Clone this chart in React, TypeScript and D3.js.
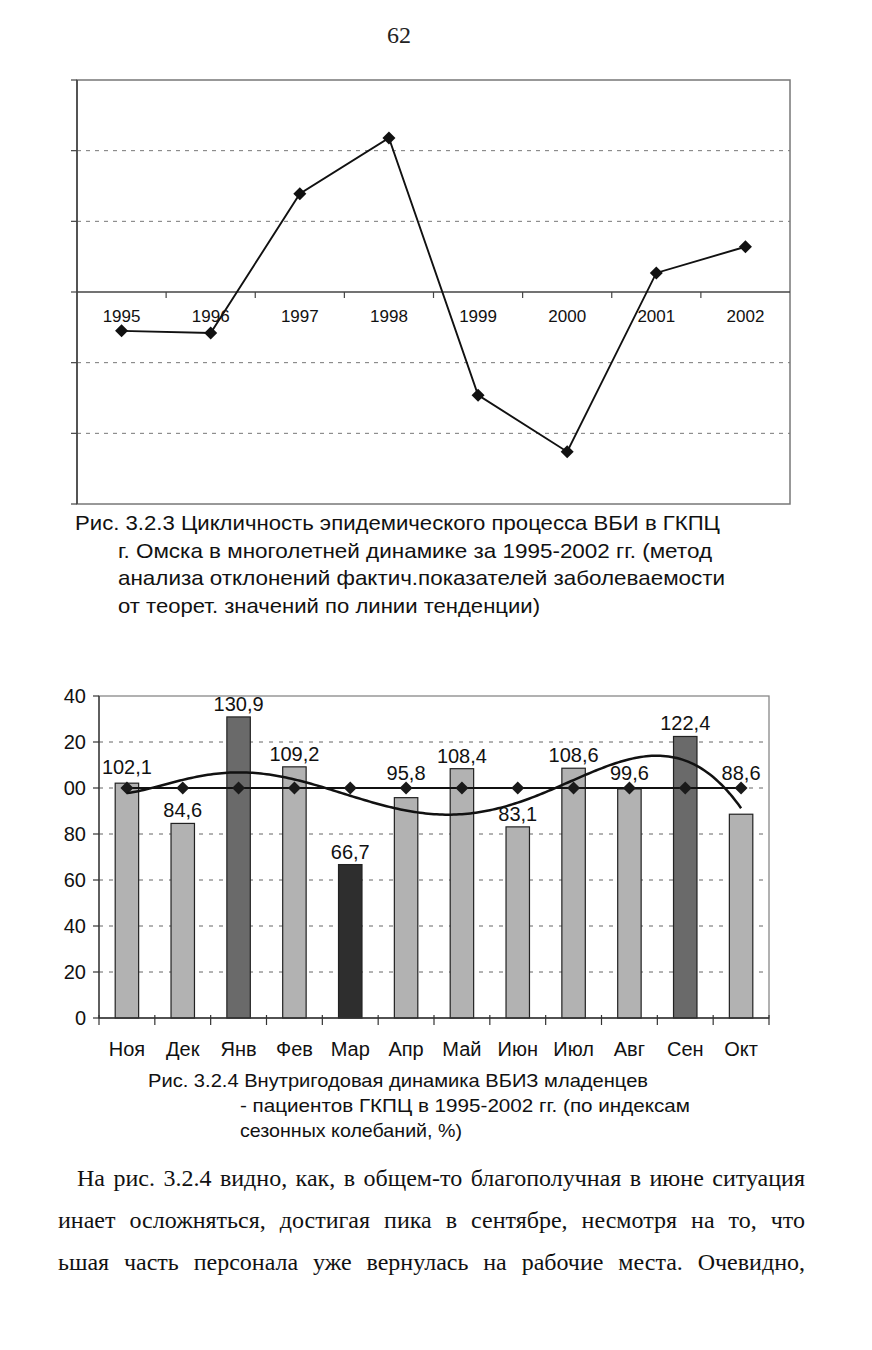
import React, { useLayoutEffect, useRef } from "react";
import * as d3 from "d3";

// ---------- Data: Fig. 3.2.3 ----------
const years = ["1995", "1996", "1997", "1998", "1999", "2000", "2001", "2002"];
const deviations = [-5.5, -5.8, 13.9, 21.8, -14.6, -22.6, 2.7, 6.4];
const devTicks = [-30, -20, -10, 0, 10, 20, 30];

// ---------- Data: Fig. 3.2.4 ----------
const months = ["Ноя", "Дек", "Янв", "Фев", "Мар", "Апр", "Май", "Июн", "Июл", "Авг", "Сен", "Окт"];
const seasonalIdx = [102.1, 84.6, 130.9, 109.2, 66.7, 95.8, 108.4, 83.1, 108.6, 99.6, 122.4, 88.6];
const baseLevel = [100, 100, 100, 100, 100, 100, 100, 100, 100, 100, 100, 100];
const idxTicks = [0, 20, 40, 60, 80, 100, 120, 140];
const trendOrder = 6;

const caption1 = [
  "Рис. 3.2.3 Цикличность эпидемического процесса ВБИ в ГКПЦ",
  "г. Омска в многолетней динамике за 1995-2002 гг. (метод",
  "анализа отклонений фактич.показателей заболеваемости",
  "от теорет. значений по линии тенденции)",
];
const caption2 = [
  "Рис. 3.2.4 Внутригодовая динамика ВБИЗ младенцев",
  "- пациентов ГКПЦ в 1995-2002 гг. (по индексам",
  "сезонных колебаний, %)",
];
const bodyLines = [
  "На рис. 3.2.4 видно, как, в общем-то благополучная в июне ситуация",
  "инает осложняться, достигая пика в сентябре, несмотря на то, что",
  "ьшая часть персонала уже вернулась на рабочие места. Очевидно,",
];

// least-squares polynomial trend (like a spreadsheet trendline)
function polyFit(ys: number[], order: number) {
  const n = ys.length;
  const mid = (n + 1) / 2, half = (n - 1) / 2;
  const ts = ys.map((_, i) => (i + 1 - mid) / half);
  const m = order + 1;
  const A: number[][] = Array.from({ length: m }, () => new Array(m + 1).fill(0));
  for (let r = 0; r < m; r++) {
    for (let c = 0; c < m; c++) {
      A[r][c] = d3.sum(ts, (t) => Math.pow(t, r + c));
    }
    A[r][m] = d3.sum(ts, (t, i) => Math.pow(t, r) * ys[i]);
  }
  for (let i = 0; i < m; i++) {
    let p = i;
    for (let k = i + 1; k < m; k++) if (Math.abs(A[k][i]) > Math.abs(A[p][i])) p = k;
    [A[i], A[p]] = [A[p], A[i]];
    for (let k = 0; k < m; k++) {
      if (k === i) continue;
      const f = A[k][i] / A[i][i];
      for (let j = i; j <= m; j++) A[k][j] -= f * A[i][j];
    }
  }
  const coef = A.map((row, i) => row[m] / row[i]);
  return (idx: number) => {
    const t = (idx + 1 - mid) / half;
    return coef.reduce((s, c, k) => s + c * Math.pow(t, k), 0);
  };
}

const SANS = "'Liberation Sans', Arial, sans-serif";
const NARROW = "'Liberation Sans Narrow', 'Arial Narrow', 'Liberation Sans', Arial, sans-serif";
const SERIF = "'Liberation Serif', 'Times New Roman', serif";

function diamond(cx: number, cy: number, r: number) {
  return `M${cx},${cy - r}L${cx + r},${cy}L${cx},${cy + r}L${cx - r},${cy}Z`;
}

// justified line: stretch word spacing to fill the given width
function JustifiedLine({ x, y, width, text, fontSize }: { x: number; y: number; width: number; text: string; fontSize: number }) {
  const ref = useRef<SVGTextElement>(null);
  useLayoutEffect(() => {
    const el = ref.current;
    if (!el) return;
    el.setAttribute("word-spacing", "0");
    const len = el.getComputedTextLength();
    const spaces = (text.match(/ /g) || []).length;
    if (spaces > 0) el.setAttribute("word-spacing", String(Math.max(0, (width - len) / spaces)));
  }, [text, width]);
  return (
    <text ref={ref} x={x} y={y} fontFamily={SERIF} fontSize={fontSize} fill="#111">{text}</text>
  );
}

function TopChart() {
  const left = 77, right = 790, top = 80, bottom = 504;
  const x = d3.scaleBand<string>().domain(years).range([left, right]).padding(0);
  const y = d3.scaleLinear().domain([-30, 30]).range([bottom, top]);
  const cx = (d: string) => (x(d) as number) + x.bandwidth() / 2;
  const line = d3.line<number>().x((_, i) => cx(years[i])).y((d) => y(d));
  const y0 = y(0);
  return (
    <g>
      <rect x={left} y={top} width={right - left} height={bottom - top} fill="none" stroke="#777" strokeWidth={1.5} />
      {devTicks.filter((t) => t !== 0 && Math.abs(t) < 30).map((t) => (
        <line key={t} x1={left} x2={right} y1={y(t)} y2={y(t)} stroke="#777" strokeWidth={1} strokeDasharray="4,5" />
      ))}
      <line x1={left} x2={left} y1={top} y2={bottom} stroke="#444" strokeWidth={1.6} />
      {devTicks.map((t) => (
        <line key={"t" + t} x1={left - 6} x2={left} y1={y(t)} y2={y(t)} stroke="#444" strokeWidth={1.2} />
      ))}
      <line x1={left} x2={right} y1={y0} y2={y0} stroke="#444" strokeWidth={1.3} />
      {years.slice(1).map((yr) => (
        <line key={"xt" + yr} x1={x(yr)} x2={x(yr)} y1={y0} y2={y0 + 6} stroke="#444" strokeWidth={1.2} />
      ))}
      {years.map((yr) => (
        <text key={"l" + yr} x={cx(yr)} y={y0 + 30} textAnchor="middle" fontFamily={SANS} fontSize={17} fill="#111">{yr}</text>
      ))}
      <path d={line(deviations) || ""} fill="none" stroke="#111" strokeWidth={1.9} />
      {deviations.map((v, i) => (
        <path key={"m" + i} d={diamond(cx(years[i]), y(v), 6.5)} fill="#111" />
      ))}
    </g>
  );
}

function barFill(v: number) {
  if (v >= 120) return "#6a6a6a";
  if (v < 70) return "#2e2e2e";
  return "#b2b2b2";
}

function BottomChart() {
  const left = 99, right = 769, top = 696, bottom = 1018;
  const x = d3.scaleBand<string>().domain(months).range([left, right]).padding(0);
  const y = d3.scaleLinear().domain([0, 140]).range([bottom, top]);
  const cx = (d: string) => (x(d) as number) + x.bandwidth() / 2;
  const bw = x.bandwidth() * 0.42;
  const trend = polyFit(seasonalIdx, trendOrder);
  const xi = d3.scaleLinear().domain([0, months.length - 1]).range([cx(months[0]), cx(months[months.length - 1])]);
  const samples = d3.range(0, months.length - 1 + 1e-9, 0.05);
  const trendPath = d3.line<number>().x((t) => xi(t)).y((t) => y(trend(t))).curve(d3.curveLinear)(samples) || "";
  const basePath = d3.line<number>().x((_, i) => cx(months[i])).y((d) => y(d))(baseLevel) || "";
  const fmt = (v: number) => v.toFixed(1).replace(".", ",");
  const tickLabel = (t: number) => String(t).slice(-2);
  const fs = 20;
  const labelY = (v: number, i: number) => {
    let b = y(v) - 6;
    const ly = y(baseLevel[i]);
    // keep labels clear of the 100-level line
    if (b + 3 > ly - 8 && b - fs * 0.75 < ly + 8) b = ly - (v > baseLevel[i] ? 14 : 8);
    return b;
  };
  return (
    <g>
      <rect x={left} y={top} width={right - left} height={bottom - top} fill="none" stroke="#888" strokeWidth={1.3} />
      {idxTicks.filter((t) => t > 0 && t < 140).map((t) => (
        <line key={t} x1={left} x2={right} y1={y(t)} y2={y(t)} stroke="#666" strokeWidth={1} strokeDasharray="4,6" />
      ))}
      {seasonalIdx.map((v, i) => (
        <rect key={"b" + i} x={cx(months[i]) - bw / 2} y={y(v)} width={bw} height={bottom - y(v)} fill={barFill(v)} stroke="#222" strokeWidth={1.2} />
      ))}
      <line x1={left} x2={left} y1={top} y2={bottom} stroke="#333" strokeWidth={1.3} />
      {idxTicks.map((t) => (
        <g key={"yt" + t}>
          <line x1={left - 6} x2={left} y1={y(t)} y2={y(t)} stroke="#333" strokeWidth={1.2} />
          <text x={86} y={y(t) + 7} textAnchor="end" fontFamily={SANS} fontSize={fs} fill="#111">{tickLabel(t)}</text>
        </g>
      ))}
      <line x1={left} x2={right} y1={bottom} y2={bottom} stroke="#333" strokeWidth={1.4} />
      {months.map((m) => (
        <line key={"xt" + m} x1={x(m)} x2={x(m)} y1={bottom - 3} y2={bottom + 7} stroke="#333" strokeWidth={1.2} />
      ))}
      <line x1={right} x2={right} y1={bottom - 3} y2={bottom + 7} stroke="#333" strokeWidth={1.2} />
      {months.map((m) => (
        <text key={"ml" + m} x={cx(m)} y={bottom + 38} textAnchor="middle" fontFamily={SANS} fontSize={fs} fill="#111">{m}</text>
      ))}
      <path d={basePath} fill="none" stroke="#111" strokeWidth={2} />
      {baseLevel.map((v, i) => (
        <path key={"d" + i} d={diamond(cx(months[i]), y(v), 6.5)} fill="#1a1a1a" />
      ))}
      <path d={trendPath} fill="none" stroke="#111" strokeWidth={2.5} />
      {seasonalIdx.map((v, i) => (
        <text key={"v" + i} x={cx(months[i])} y={labelY(v, i)} textAnchor="middle" fontFamily={SANS} fontSize={fs} fill="#111">{fmt(v)}</text>
      ))}
    </g>
  );
}

export default function App() {
  return (
    <svg width={872} height={1350} style={{ position: "absolute", left: 0, top: 0, background: "#fff" }}>
      <rect width={872} height={1350} fill="#fff" />
      <text x={399} y={43} textAnchor="middle" fontFamily={SERIF} fontSize={24} fill="#222">62</text>
      <TopChart />
      {caption1.map((s, i) => (
        <text key={"c1" + i} x={i === 0 ? 75 : 118} y={530 + i * 27.5} fontFamily={NARROW} fontSize={21} fill="#111"
          textLength={[645, 594, 607, 422][i]} lengthAdjust="spacingAndGlyphs">{s}</text>
      ))}
      <BottomChart />
      {caption2.map((s, i) => (
        <text key={"c2" + i} x={i === 0 ? 148 : 240} y={1087 + i * 25} fontFamily={NARROW} fontSize={19} fill="#111"
          textLength={[500, 450, 222][i]} lengthAdjust="spacingAndGlyphs">{s}</text>
      ))}
      {bodyLines.map((s, i) => (
        <JustifiedLine key={"b" + i} x={i === 0 ? 77 : 58} y={1186 + i * 42} width={i === 0 ? 728 : 747} text={s} fontSize={24} />
      ))}
    </svg>
  );
}
